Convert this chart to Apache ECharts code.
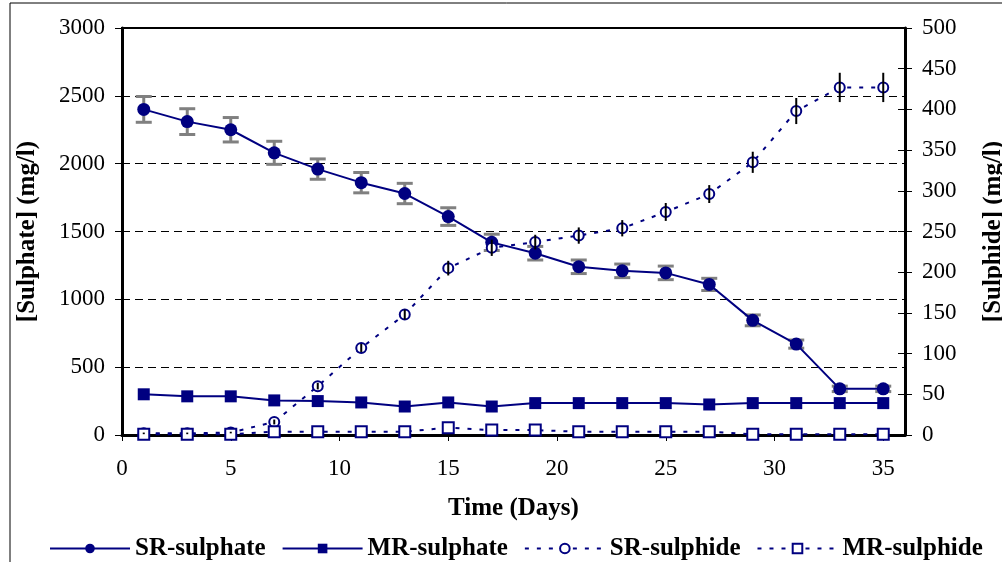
<!DOCTYPE html>
<html>
<head>
<meta charset="utf-8">
<script src="https://cdn.jsdelivr.net/npm/echarts/dist/echarts.min.js"></script>
<style>
  html, body { margin: 0; padding: 0; background: #fff; }
  #chart { width: 1002px; height: 562px; }
</style>
</head>
<body>
<div id="chart"></div>
<script>
// Sampling days
const days = [1, 3, 5, 7, 9, 11, 13, 15, 17, 19, 21, 23, 25, 27, 29, 31, 33, 35];

// Sulphate (mg/l), left axis
const srSulphate = [2400, 2310, 2250, 2080, 1960, 1860, 1780, 1610, 1420, 1340, 1240, 1210, 1195, 1110, 845, 670, 340, 340];
const srSulphateErr = [95, 95, 90, 85, 75, 75, 75, 65, 60, 50, 50, 50, 50, 45, 40, 30, 20, 20];
const mrSulphate = [300, 285, 285, 255, 250, 240, 210, 240, 210, 235, 235, 235, 235, 225, 235, 235, 235, 235];

// Sulphide (mg/l), right axis
const srSulphide = [2, 2, 3, 16, 60, 107, 148, 205, 230, 237, 245, 254, 274, 296, 335, 398, 427, 427];
const srSulphideErr = [1, 1, 1, 3, 4, 5, 6, 9, 10, 9, 10, 10, 11, 11, 13, 16, 18, 18];
const mrSulphide = [1, 1, 1, 4, 4, 4, 4, 9, 6, 6, 4, 4, 4, 4, 1, 1, 1, 1];

const NAVY = '#000080';
const FONT = '"Liberation Serif", "Times New Roman", serif';
const TITLE_STYLE = { fontFamily: FONT, fontSize: 25, fontWeight: 'bold', color: '#000' };
const TICK_STYLE = { fontFamily: FONT, fontSize: 23, color: '#000' };

const pairs = (vals) => days.map((d, i) => [d, vals[i]]);
const ranges = (vals, errs) => days.map((d, i) => [d, vals[i] - errs[i], vals[i] + errs[i]]);
const plain = (v) => String(v);

// Vertical error bar with optional horizontal caps
function errorBar(color, width, cap) {
  return function (params, api) {
    const x = api.value(0);
    const top = api.coord([x, api.value(2)]);
    const bot = api.coord([x, api.value(1)]);
    const style = { stroke: color, lineWidth: width };
    const children = [{ type: 'line', shape: { x1: top[0], y1: top[1], x2: bot[0], y2: bot[1] }, style }];
    if (cap > 0) {
      children.push({ type: 'line', shape: { x1: top[0] - cap, y1: top[1], x2: top[0] + cap, y2: top[1] }, style });
      children.push({ type: 'line', shape: { x1: bot[0] - cap, y1: bot[1], x2: bot[0] + cap, y2: bot[1] }, style });
    }
    return { type: 'group', children };
  };
}

const chart = echarts.init(document.getElementById('chart'), null, { renderer: 'canvas' });

chart.setOption({
  animation: false,
  backgroundColor: '#fff',
  textStyle: { fontFamily: FONT },
  graphic: [{
    type: 'rect',
    shape: { x: 10, y: 3, width: 1100, height: 600 },
    style: { fill: 'none', stroke: '#000', lineWidth: 1 },
    silent: true, z: 0
  }],
  grid: {
    left: 122, right: 97, top: 28, bottom: 127,
    containLabel: false, outerBoundsMode: 'none',
    show: true, borderColor: '#000', borderWidth: 2
  },
  legend: {
    top: 531, left: 44,
    itemWidth: 80, itemHeight: 12, itemGap: 16,
    textStyle: Object.assign({}, TITLE_STYLE),
    data: ['SR-sulphate', 'MR-sulphate', 'SR-sulphide', 'MR-sulphide']
  },
  xAxis: {
    type: 'value', min: 0, max: 36, interval: 5,
    name: 'Time (Days)', nameLocation: 'middle', nameGap: 61,
    nameTextStyle: TITLE_STYLE,
    axisLine: { lineStyle: { color: '#000', width: 3 } },
    axisTick: { show: true, length: 6, lineStyle: { color: '#000', width: 1 } },
    axisLabel: Object.assign({ margin: 22, showMaxLabel: false, formatter: plain }, TICK_STYLE),
    splitLine: { show: false }
  },
  yAxis: [{
    type: 'value', min: 0, max: 3000, interval: 500, position: 'left',
    name: '[Sulphate] (mg/l)', nameLocation: 'middle', nameGap: 82, nameRotate: 90,
    nameTextStyle: TITLE_STYLE,
    axisLine: { show: true, lineStyle: { color: '#000', width: 3 } },
    axisTick: { show: true, length: 7, lineStyle: { color: '#000', width: 1 } },
    axisLabel: Object.assign({ margin: 17, formatter: plain }, TICK_STYLE),
    splitLine: { show: true, lineStyle: { color: '#000', width: 1, type: [8, 5] } }
  }, {
    type: 'value', min: 0, max: 500, interval: 50, position: 'right',
    name: '[Sulphide] (mg/l)', nameLocation: 'middle', nameGap: 76, nameRotate: 90,
    nameTextStyle: TITLE_STYLE,
    axisLine: { show: true, lineStyle: { color: '#000', width: 3 } },
    axisTick: { show: true, length: 7, lineStyle: { color: '#000', width: 1 } },
    axisLabel: Object.assign({ margin: 17, formatter: plain }, TICK_STYLE),
    splitLine: { show: false }
  }, {
    // inner half of the crossing ticks on the sulphide axis
    type: 'value', min: 0, max: 500, interval: 50, position: 'right',
    axisLine: { show: false },
    axisTick: { show: true, inside: true, length: 7, lineStyle: { color: '#000', width: 1 } },
    axisLabel: { show: false },
    splitLine: { show: false }
  }],
  series: [
    {
      name: 'SR-sulphate-err', type: 'custom', yAxisIndex: 0, z: 2,
      renderItem: errorBar('#808080', 3, 8),
      encode: { x: 0, y: [1, 2] },
      data: ranges(srSulphate, srSulphateErr), silent: true
    },
    {
      name: 'SR-sulphate', type: 'line', yAxisIndex: 0, z: 3,
      symbol: 'circle', symbolSize: 13,
      itemStyle: { color: NAVY },
      lineStyle: { color: NAVY, width: 2 },
      data: pairs(srSulphate)
    },
    {
      name: 'MR-sulphate', type: 'line', yAxisIndex: 0, z: 3,
      symbol: 'rect', symbolSize: 12,
      itemStyle: { color: NAVY },
      lineStyle: { color: NAVY, width: 2 },
      data: pairs(mrSulphate)
    },
    {
      name: 'SR-sulphide', type: 'line', yAxisIndex: 1, z: 3,
      symbol: 'emptyCircle', symbolSize: 10,
      itemStyle: { color: NAVY, borderColor: NAVY, borderWidth: 2 },
      lineStyle: { color: NAVY, width: 2, type: [4, 8] },
      data: pairs(srSulphide)
    },
    {
      name: 'SR-sulphide-err', type: 'custom', yAxisIndex: 1, z: 4,
      renderItem: errorBar('#000', 2, 0),
      encode: { x: 0, y: [1, 2] },
      data: ranges(srSulphide, srSulphideErr), silent: true
    },
    {
      name: 'MR-sulphide', type: 'line', yAxisIndex: 1, z: 3,
      symbol: 'emptyRect', symbolSize: 11,
      itemStyle: { color: NAVY, borderColor: NAVY, borderWidth: 2 },
      lineStyle: { color: NAVY, width: 2, type: [4, 8] },
      data: pairs(mrSulphide)
    }
  ]
});
</script>
</body>
</html>
